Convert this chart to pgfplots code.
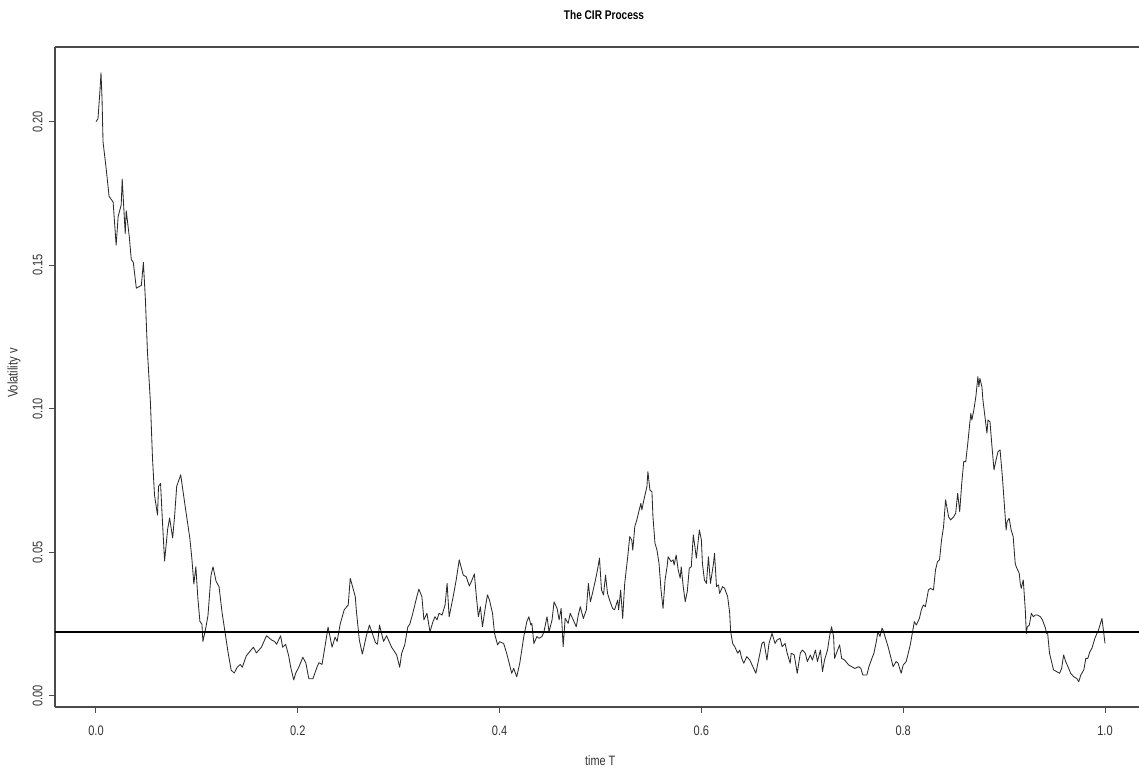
\documentclass[border=0pt]{standalone}
\usepackage{pgfplots}
\pgfplotsset{compat=1.18}
\usepackage{fontspec}
\setmainfont{Liberation Sans}[FakeStretch=0.8]
\definecolor{axisgray}{HTML}{4A4A4A}
\definecolor{textgray}{HTML}{333333}
\definecolor{curvecol}{HTML}{2A2A2A}
\begin{document}
\begin{tikzpicture}
\begin{axis}[
  scale only axis,
  width=542pt, height=330pt,
  xmin=-0.0406, xmax=1.0337,
  ymin=-0.00383, ymax=0.2260,
  axis lines*=left,
  axis line style={axisgray, line width=0.6pt},
  tick style={axisgray, line width=0.5pt},
  tick align=outside,
  major tick length=3pt,
  xtick={0,0.2,0.4,0.6,0.8,1},
  xticklabels={0.0,0.2,0.4,0.6,0.8,1.0},
  ytick={0,0.05,0.1,0.15,0.2},
  yticklabels={0.00,0.05,0.10,0.15,0.20},
  /pgf/number format/assume math mode=true,
  ticklabel style={font=\fontsize{6.9}{8}\selectfont, text=textgray},
  xticklabel style={anchor=north, inner sep=0pt, yshift=-6.1pt},
  yticklabel style={rotate=90, anchor=south, inner sep=0pt, yshift=3pt},
  every axis title/.style={at={(axis description cs:0.5065,1.0485)}, anchor=center, font=\fontsize{6.3}{7}\selectfont, text=black},
  title={\bfseries The CIR Process},
  xlabel={time T},
  xlabel style={at={(axis description cs:0.503,-0.0818)}, anchor=center, font=\fontsize{6.8}{8}\selectfont, text=textgray},
  ylabel={Volatility v},
  ylabel style={at={(axis description cs:-0.0378,0.506)}, anchor=center, rotate=0, font=\fontsize{7}{8}\selectfont, text=textgray},
]
\addplot[curvecol, line width=0.42pt, line join=round] table {
x y
0.000 0.200
0.002 0.201
0.004 0.211
0.005 0.217
0.006 0.208
0.007 0.193
0.010 0.184
0.013 0.174
0.017 0.172
0.020 0.157
0.022 0.167
0.025 0.171
0.026 0.180
0.029 0.161
0.030 0.169
0.033 0.160
0.035 0.152
0.037 0.151
0.040 0.142
0.045 0.143
0.047 0.151
0.049 0.138
0.051 0.120
0.054 0.102
0.056 0.083
0.058 0.070
0.061 0.063
0.062 0.073
0.064 0.074
0.066 0.060
0.068 0.047
0.071 0.058
0.073 0.062
0.076 0.055
0.078 0.063
0.080 0.073
0.084 0.077
0.088 0.067
0.093 0.055
0.095 0.048
0.097 0.039
0.099 0.045
0.101 0.034
0.103 0.026
0.105 0.025
0.106 0.019
0.109 0.024
0.111 0.028
0.114 0.042
0.116 0.045
0.119 0.040
0.122 0.038
0.125 0.029
0.128 0.022
0.131 0.015
0.134 0.009
0.137 0.008
0.140 0.010
0.143 0.011
0.145 0.010
0.149 0.014
0.156 0.017
0.159 0.015
0.164 0.017
0.169 0.021
0.174 0.0195
0.177 0.019
0.179 0.018
0.183 0.021
0.185 0.017
0.188 0.018
0.191 0.014
0.193 0.010
0.196 0.0056
0.198 0.008
0.201 0.010
0.205 0.0135
0.208 0.0115
0.211 0.006
0.215 0.006
0.219 0.010
0.221 0.0116
0.224 0.011
0.225 0.013
0.228 0.0195
0.230 0.024
0.234 0.017
0.237 0.0205
0.239 0.019
0.242 0.025
0.246 0.030
0.250 0.0317
0.252 0.041
0.257 0.0346
0.258 0.030
0.261 0.0195
0.264 0.0146
0.268 0.021
0.271 0.0247
0.273 0.0227
0.277 0.0186
0.279 0.018
0.281 0.0247
0.285 0.019
0.288 0.021
0.293 0.017
0.298 0.0143
0.301 0.010
0.303 0.0149
0.306 0.0178
0.309 0.024
0.311 0.025
0.314 0.0288
0.318 0.0346
0.320 0.0372
0.323 0.0346
0.325 0.0265
0.328 0.0288
0.331 0.0224
0.334 0.0259
0.336 0.0276
0.338 0.0265
0.340 0.0288
0.343 0.0282
0.346 0.0317
0.348 0.0392
0.350 0.0276
0.354 0.0346
0.357 0.0404
0.360 0.0474
0.364 0.0421
0.367 0.0415
0.370 0.0383
0.372 0.0398
0.375 0.0425
0.377 0.0346
0.379 0.0276
0.381 0.0311
0.383 0.0241
0.386 0.0311
0.388 0.0352
0.390 0.0334
0.393 0.0288
0.395 0.0218
0.398 0.0178
0.400 0.0189
0.404 0.0183
0.407 0.0149
0.410 0.0108
0.412 0.0079
0.414 0.0096
0.417 0.0067
0.420 0.0114
0.422 0.016
0.424 0.0207
0.427 0.0259
0.429 0.0276
0.431 0.0247
0.432 0.0253
0.434 0.0183
0.437 0.0207
0.439 0.0201
0.442 0.0207
0.444 0.0224
0.447 0.0276
0.449 0.0224
0.452 0.0265
0.454 0.0328
0.457 0.0305
0.459 0.0265
0.461 0.0305
0.463 0.0172
0.465 0.0270
0.468 0.0253
0.470 0.0288
0.473 0.0265
0.476 0.0241
0.478 0.0282
0.480 0.0311
0.483 0.0270
0.486 0.030
0.488 0.0392
0.490 0.0328
0.492 0.0357
0.495 0.0404
0.497 0.0439
0.499 0.048
0.501 0.0369
0.503 0.0352
0.505 0.0421
0.507 0.0357
0.509 0.0334
0.512 0.0305
0.514 0.030
0.517 0.0334
0.518 0.030
0.520 0.0369
0.522 0.0270
0.524 0.0392
0.527 0.0485
0.529 0.0555
0.531 0.0543
0.532 0.0508
0.534 0.059
0.536 0.0613
0.538 0.0642
0.540 0.0671
0.541 0.0648
0.543 0.0683
0.546 0.0729
0.547 0.0781
0.549 0.0717
0.551 0.0711
0.552 0.0624
0.554 0.0532
0.556 0.0508
0.558 0.0462
0.560 0.0369
0.562 0.0305
0.564 0.0404
0.566 0.045
0.567 0.0485
0.570 0.0468
0.572 0.0474
0.573 0.0456
0.575 0.0491
0.577 0.0439
0.579 0.041
0.580 0.045
0.582 0.0381
0.584 0.0328
0.586 0.0363
0.588 0.0445
0.590 0.045
0.592 0.0561
0.594 0.0508
0.595 0.048
0.598 0.0578
0.600 0.0543
0.601 0.0462
0.603 0.0404
0.605 0.0392
0.607 0.0485
0.609 0.0392
0.610 0.0415
0.612 0.0462
0.613 0.0497
0.615 0.0381
0.617 0.0387
0.618 0.0357
0.621 0.0381
0.623 0.0375
0.626 0.0346
0.628 0.029
0.629 0.0224
0.631 0.0183
0.633 0.0172
0.636 0.0149
0.638 0.016
0.640 0.0131
0.642 0.0114
0.645 0.0137
0.648 0.0125
0.651 0.0102
0.654 0.0079
0.656 0.0114
0.660 0.0183
0.662 0.0189
0.665 0.0125
0.667 0.0183
0.670 0.0218
0.673 0.0183
0.675 0.0195
0.678 0.0201
0.680 0.0172
0.683 0.0183
0.685 0.0149
0.688 0.0114
0.689 0.0149
0.692 0.0143
0.695 0.0079
0.698 0.0149
0.700 0.016
0.703 0.0149
0.705 0.012
0.708 0.0143
0.710 0.0125
0.713 0.016
0.715 0.012
0.718 0.016
0.720 0.0085
0.722 0.0125
0.725 0.016
0.727 0.0207
0.729 0.0241
0.731 0.0207
0.732 0.0131
0.735 0.016
0.737 0.0178
0.739 0.0131
0.742 0.0125
0.746 0.0108
0.749 0.0102
0.752 0.0096
0.756 0.0102
0.758 0.0096
0.760 0.0073
0.764 0.0073
0.766 0.0102
0.769 0.0131
0.771 0.0149
0.773 0.0183
0.775 0.0224
0.777 0.0207
0.779 0.0236
0.780 0.023
0.783 0.0195
0.785 0.0172
0.788 0.0131
0.790 0.0102
0.793 0.012
0.795 0.0114
0.798 0.0079
0.800 0.0108
0.803 0.012
0.805 0.0149
0.807 0.0178
0.809 0.0218
0.811 0.0259
0.813 0.0247
0.816 0.0270
0.818 0.030
0.820 0.0317
0.822 0.0311
0.825 0.0369
0.827 0.0375
0.830 0.0369
0.832 0.0439
0.834 0.0468
0.836 0.0474
0.838 0.0543
0.840 0.059
0.842 0.0683
0.845 0.0624
0.847 0.0613
0.850 0.0624
0.852 0.0636
0.854 0.0706
0.856 0.0642
0.858 0.0740
0.860 0.0816
0.862 0.0816
0.864 0.088
0.866 0.095
0.867 0.0984
0.868 0.0961
0.870 0.0996
0.872 0.1042
0.874 0.1112
0.875 0.1077
0.876 0.1106
0.878 0.1077
0.879 0.1031
0.881 0.0973
0.883 0.0915
0.884 0.0961
0.886 0.0955
0.888 0.0868
0.890 0.0787
0.892 0.0822
0.894 0.0851
0.896 0.0857
0.898 0.0776
0.899 0.0729
0.902 0.0578
0.903 0.0607
0.905 0.0619
0.907 0.0578
0.909 0.0555
0.911 0.0462
0.912 0.045
0.915 0.0427
0.916 0.0392
0.917 0.0375
0.919 0.0404
0.921 0.030
0.922 0.0218
0.923 0.0241
0.925 0.0247
0.927 0.0288
0.929 0.0276
0.931 0.0282
0.933 0.0282
0.936 0.0276
0.938 0.0265
0.941 0.0236
0.942 0.0218
0.943 0.0224
0.945 0.0149
0.947 0.012
0.949 0.0091
0.952 0.0085
0.955 0.0079
0.957 0.0096
0.959 0.0143
0.961 0.012
0.964 0.0096
0.966 0.0079
0.969 0.0067
0.972 0.0061
0.974 0.005
0.976 0.0073
0.979 0.0091
0.981 0.0131
0.983 0.0131
0.985 0.0154
0.987 0.0166
0.990 0.0201
0.992 0.0218
0.993 0.0224
0.995 0.0247
0.997 0.0270
0.998 0.0241
1.000 0.0183
};
\addplot[black, line width=0.65pt] coordinates {(-0.06,0.0223) (1.06,0.0223)};
\draw[axisgray, line width=0.6pt] (rel axis cs:0,1) -- (rel axis cs:1,1);
\end{axis}
\pgfresetboundingbox
\useasboundingbox (-27.5pt,-31pt) rectangle (542pt,353.5pt);
\end{tikzpicture}
\end{document}
